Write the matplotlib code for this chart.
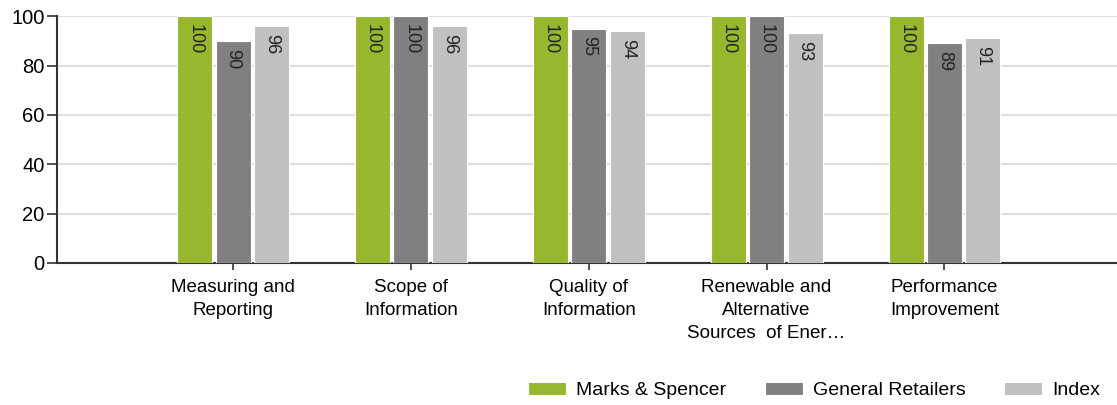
import numpy as np
import matplotlib.pyplot as plt

plt.rcParams['font.family'] = ['Liberation Sans', 'DejaVu Sans']

categories = ["Measuring and\nReporting", "Scope of\nInformation", "Quality of\nInformation",
              "Renewable and\nAlternative\nSources  of Ener\u2026", "Performance\nImprovement"]
series_names = ["Marks & Spencer", "General Retailers", "Index"]
marks_spencer = [100, 100, 100, 100, 100]
general_retailers = [90, 100, 95, 100, 89]
index_vals = [96, 96, 94, 93, 91]
colors = ["#97b82e", "#808080", "#c0c0c0"]

fig = plt.figure(figsize=(11.17, 4.05), dpi=100)
ax = fig.add_axes([0.051, 0.351, 0.949, 0.609])

x = np.arange(len(categories))
w = 0.197
offs = [-0.216, 0.0, 0.216]
for vals, name, c, o in zip([marks_spencer, general_retailers, index_vals], series_names, colors, offs):
    bars = ax.bar(x + o, vals, width=w, color=c, edgecolor="white", linewidth=0.8, label=name, zorder=3)
    for b, v in zip(bars, vals):
        ax.annotate(str(v), (b.get_x() + b.get_width() / 2, b.get_height()),
                    xytext=(0, -5.5), textcoords="offset points", rotation=270,
                    ha="center", va="top", fontsize=13, color="#222222", zorder=4)

ax.set_xlim(-0.99, 4.97)
ax.set_ylim(0, 100)
ax.set_yticks([0, 20, 40, 60, 80, 100])
ax.set_xticks(x)
ax.set_xticklabels(categories, fontsize=13.5, linespacing=1.45)
ax.tick_params(axis="y", labelsize=14.5, length=7, width=1.2, color="#333333", pad=2)
ax.tick_params(axis="x", length=5, width=1.2, color="#333333", pad=6.5)
ax.yaxis.grid(True, color="#dedede", linewidth=1.5, zorder=0)
ax.set_axisbelow(True)
for s in ["top", "right"]:
    ax.spines[s].set_visible(False)
for s in ["left", "bottom"]:
    ax.spines[s].set_color("#333333")
    ax.spines[s].set_linewidth(1.5)
ax.spines["left"].set_bounds(0, 100)

ax.legend(loc="lower right", bbox_to_anchor=(0.995, -0.015), bbox_transform=fig.transFigure,
          ncol=3, frameon=False, fontsize=14, handlelength=1.95, handleheight=0.6,
          columnspacing=2.0, handletextpad=0.5, borderaxespad=0.2)

fig.savefig("out.png", dpi=100)
